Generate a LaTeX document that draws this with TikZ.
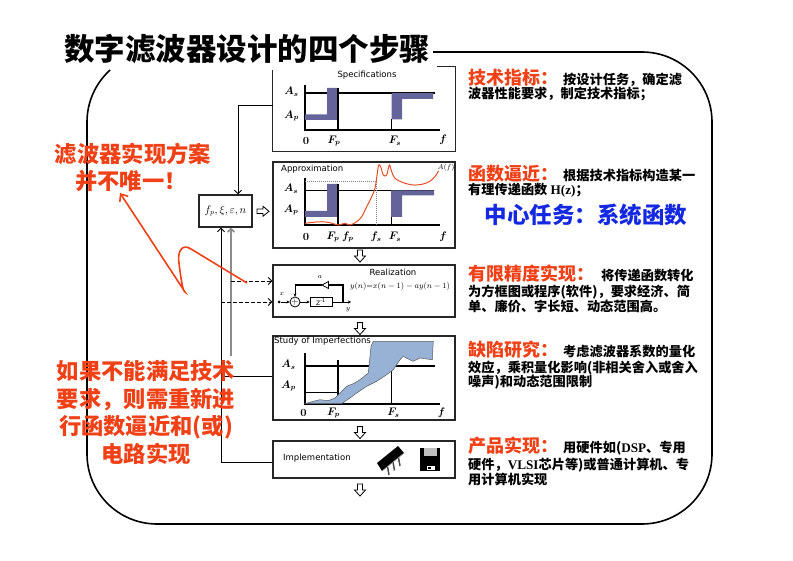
\documentclass[tikz,border=0pt]{standalone}
\usepackage{fontspec}
\newfontfamily\cjk{Noto Sans CJK SC}
\newfontfamily\dvs{DejaVu Sans}
\newfontfamily\tms{Liberation Serif}
\usetikzlibrary{arrows.meta}
\definecolor{hred}{RGB}{240,64,22}
\definecolor{hblue}{RGB}{20,40,225}
\definecolor{barc}{RGB}{100,100,155}
\definecolor{curvec}{RGB}{232,78,38}
\definecolor{bluc}{RGB}{152,178,214}
\newcommand\redhead{\cjk\bfseries\fontsize{18}{18}\selectfont\color{hred}}
\newcommand\blkbody{\cjk\bfseries\fontsize{13.2}{13.2}\selectfont\color{black}}
\newcommand\bigred{\cjk\bfseries\fontsize{22.3}{22.3}\selectfont}
\begin{document}
\begin{tikzpicture}[x=1pt,y=-1pt,
  boxline/.style={draw=black!85, line width=1.3},
  panel/.style={boxline, inner sep=0, minimum width=182},
  ghost/.style={inner sep=0, minimum width=182},
  ax/.style={line width=1.3},
  ml/.style={inner sep=0, font=\fontsize{10.5}{12}\selectfont\boldmath},
  sml/.style={inner sep=0, font=\fontsize{7.5}{9}\selectfont},
  sl/.style={inner sep=0, font=\dvs\fontsize{8.5}{10}\selectfont},
  conn/.style={line width=0.9, -{Straight Barb[length=3.5pt,width=7pt]}},
  dconn/.style={conn, dash pattern=on 3.5pt off 2.5pt},
  redarrow/.style={draw=hred, line width=1.6, -{Straight Barb[length=6pt,width=10pt]}},
  rt/.style={inner sep=0, anchor=base west},
  hdown/.pic={\draw[line width=0.8,fill=white] (-2.5,-6) -- (2.5,-6) -- (2.5,0) -- (5.5,0) -- (0,6) -- (-5.5,0) -- (-2.5,0) -- cycle;},
  hright/.pic={\draw[line width=0.8,fill=white] (-6,-2.3) -- (0,-2.3) -- (0,-5) -- (6,0) -- (0,5) -- (0,2.3) -- (-6,2.3) -- cycle;}
]
\useasboundingbox (0,0) rectangle (793,561);

% outer frame (its top-left part is hidden by the title)
\draw[line width=1.6] (433,52) -- (642,52) arc[start angle=-90,end angle=0,radius=70]
  -- (712,454) arc[start angle=0,end angle=90,radius=70]
  -- (157,524) arc[start angle=90,end angle=180,radius=70]
  -- (87,122) arc[start angle=180,end angle=228,radius=70];

% title
\node[inner sep=0, anchor=base, font=\cjk\bfseries\fontsize{30.5}{30.5}\selectfont] (title) at (247,60.6) {数字滤波器设计的四个步骤};

% ---------- panels ----------
\node[ghost, minimum height=84] (spec) at (364,109) {};
\draw[boxline] ([xshift=-18]spec.north east) -- (spec.north east) -- (spec.south east) -- (spec.south west) -- ([yshift=-3]spec.north west);
\node[panel, minimum height=86] (approx) at (364,205) {};
\node[panel, minimum height=52] (real) at (364,291) {};
\node[panel, minimum height=84] (study) at (364,378) {};
\node[panel, minimum height=37] (impl) at (364,459.5) {};
\node[boxline, inner sep=0, minimum width=53, minimum height=32, font=\fontsize{10.5}{12}\selectfont] (param) at (225.5,211) {$f_p,\xi,\varepsilon,n$};

% hollow arrows
\pic at (360,256) {hdown};
\pic at (360,328.5) {hdown};
\pic at (360,432.5) {hdown};
\pic at (360,490) {hdown};
\pic at (263,211.3) {hright};

% ---------- panel 1: specifications ----------
\node[sl] (p1t) at (367,75) {Specifications};
\draw[ax] (305,85) -- (305,130) -- (440,130);
\draw[line width=1.4] (305,93) -- (435,93);
\fill[barc] (305,114.5) -- (327,114.5) -- (327,88) -- (338,88) -- (338,120) -- (305,120) -- cycle;
\fill[barc] (391.5,93) -- (433,93) -- (433,99) -- (402,99) -- (402,119.5) -- (391.5,119.5) -- cycle;
\draw[ax] (338,88) -- (338,130);
\draw[line width=1] (391.5,119.5) -- (391.5,130);
\node[ml] (p1as) at (291.5,92) {$A_s$};
\node[ml] (p1ap) at (291.5,116) {$A_p$};
\node[ml] (p1z) at (306,141) {$0$};
\node[ml] (p1fp) at (334,141) {$F_p$};
\node[ml] (p1fs) at (395,141) {$F_s$};
\node[ml] (p1f) at (443,140) {$f$};

% ---------- panel 2: approximation ----------
\node[sl, anchor=west] (p2t) at (281,169) {Approximation};
\draw[ax] (305,178) -- (305,225) -- (440,225);
\draw[line width=1.4] (305,190.5) -- (434,190.5);
\draw[gray, line width=0.6, dash pattern=on 1pt off 1pt] (305,181) -- (376,181) -- (376,225);
\fill[barc] (305,211) -- (327,211) -- (327,184) -- (338,184) -- (338,217) -- (305,217) -- cycle;
\fill[barc] (391,190.5) -- (434,190.5) -- (434,195.5) -- (402,195.5) -- (402,217) -- (391,217) -- cycle;
\draw[ax] (338,184) -- (338,225);
\draw[line width=1] (391,217) -- (391,225);
\draw[curvec, line width=1] plot[smooth, tension=0.55] coordinates {
 (305,223.3) (313.3,222.3) (321.7,221.7) (330,222.7) (338.3,225) (345,223.3) (350,225)
 (356.7,221.7) (361.7,216.7) (366.7,206.7) (371.7,196.7) (375,188.3) (377.3,173.3)
 (378.7,165) (380.7,166.7) (383.3,175) (386.7,175) (389.3,165) (391.7,171.7) (395,178.3)
 (403.3,182.7) (413.3,185) (423.3,184) (430,181.2) (435,176.5) (438.5,171)};
\node[sml] (p2af) at (446,167.5) {$A(f)$};
\node[ml] (p2as) at (291,189) {$A_s$};
\node[ml] (p2ap) at (291,210) {$A_p$};
\node[ml] (p2z) at (306,237) {$0$};
\node[ml] (p2Fp) at (333,237) {$F_p$};
\node[ml] (p2fp) at (348,237) {$f_p$};
\node[ml] (p2fs) at (376,237) {$f_s$};
\node[ml] (p2Fs) at (395,237) {$F_s$};
\node[ml] (p2f) at (443,237) {$f$};

% ---------- panel 3: realization ----------
\node[sl] (p3t) at (393,272) {Realization};
\node[inner sep=0, font=\fontsize{8.5}{10}\selectfont] (p3eq) at (400,287) {$y(n){=}x(n-1)-ay(n-1)$};
\node[sml] (p3x) at (282,294) {$x$};
\node[sml] (p3y) at (348,309.5) {$y$};
\node[sml] (p3a) at (320,277) {$a$};
\node[circle, fill=black, inner sep=0, minimum size=3] (xin) at (279,302) {};
\node[circle, draw, line width=0.8, inner sep=0, minimum size=10, font=\fontsize{9}{9}\selectfont] (add) at (295,302) {$+$};
\node[draw, line width=0.8, inner sep=0, minimum width=22, minimum height=8.5, font=\dvs\fontsize{6}{6}\selectfont] (zd) at (321,302) {Z\textsuperscript{-1}};
\coordinate (tap) at (343,302);
\coordinate (yout) at (351,302);
\coordinate (fbtop) at (343,285);
\coordinate (fbleft) at (295,285);
\draw[line width=0.8, -{Stealth[length=3pt,width=3pt]}] (xin) -- (add);
\draw[line width=0.8, -{Stealth[length=3pt,width=3pt]}] (add) -- (zd);
\draw[line width=0.8, -{Stealth[length=3pt,width=3pt]}] (zd) -- (yout);
\draw[line width=1.8] (tap) -- (fbtop) -- (328.5,285);
\draw[line width=0.8, fill=white] (328.5,281.5) -- (328.5,288.5) -- (322,285) -- cycle;
\draw[line width=1.8] (322,285) -- (fbleft);
\draw[line width=0.8, -{Stealth[length=3pt,width=3pt]}] (fbleft) -- (add);

% ---------- panel 4: study of imperfections ----------
\draw[ax] (305,353) -- (305,404) -- (440,404);
\draw[line width=1.4] (305,366) -- (435,366);
\draw[line width=0.8] (305,392) -- (338,392);
\draw[line width=1.2] (338,360) -- (338,396);
\draw[line width=0.8] (391,370) -- (391,404);
\draw[fill=bluc, draw=black!65, line width=0.5] plot coordinates {
 (305,403.7) (313.3,401.3) (320,399.7) (328.3,400.7) (335,398) (340,393) (346.7,386.3)
 (353.3,383.7) (360,379.7) (368.3,373) (370,356.3) (371,346.3) (373.3,341.3) (433.3,341.3)
 (432.3,359.7) (426.7,359) (420,358) (413.3,361.3) (408.3,359) (403.3,356.3) (400,359.7)
 (396.7,364.7) (393.3,369.7) (386.7,374.7) (376.7,381.3) (366.7,386.3) (356.7,393)
 (350,398) (341.7,403.7)} -- cycle;
\node[sl, anchor=west] (p4t) at (274,341.5) {Study of Imperfections};
\node[ml] (p4as) at (288.5,365) {$A_s$};
\node[ml] (p4ap) at (288.5,386) {$A_p$};
\node[ml] (p4z) at (303.5,413) {$0$};
\node[ml] (p4fp) at (333.5,413) {$F_p$};
\node[ml] (p4fs) at (393.5,413) {$F_s$};
\node[ml] (p4f) at (441.5,413) {$f$};

% ---------- panel 5: implementation ----------
\node[sl, anchor=west, font=\dvs\fontsize{8.5}{10}\selectfont] (p5t) at (283,458.5) {Implementation};
\fill[black] (398,446) -- (404,453) -- (382,471) -- (377,463) -- cycle;
\draw[black!70, line width=1.5] (398.5,457.5) -- (400,466) (393,462) -- (394.5,470.5) (387.5,466.5) -- (389,475);
\draw[black!45, line width=0.6] (404,453) -- (382,471);
\fill[black] (420,448) rectangle (440,471);
\fill[black!25] (424,448) rectangle (437,456);
\fill[white] (427,465.5) rectangle (435,470);
\fill[black] (428,466.5) rectangle (430.5,469);

% ---------- connectors ----------
\coordinate (bl) at ([xshift=-4.5]param.south);
\coordinate (gl) at ([xshift=5.5]param.south);
\coordinate (glend) at (231,356);
\draw[conn] ([yshift=4]spec.west) -| ([xshift=12.5]param.north);
\draw[conn] ([yshift=-2.5]impl.west) -| (bl);
\draw[line width=0.9] (study.west |- 0,376.5) -- (bl |- 0,376.5);
\draw[conn, draw=black!45, line width=1.5] (glend) -- (gl);
\draw[dconn] (gl |- 0,281) -- ([yshift=10]real.west);
\draw[dconn] (bl |- 0,302) -- ([yshift=-11]real.west);

% ---------- left red notes ----------
\node[inner sep=0, anchor=base, font=\bigred, text=hred] (n1a) at (133,162.4) {滤波器实现方案};
\node[inner sep=0, anchor=base, font=\bigred, text=hred] (n1b) at (131,189.4) {并不唯一！};
\coordinate (rtail) at (247,283);
\coordinate (rtip) at (120,193);
\draw[redarrow] (rtail) -- (191,249) .. controls (182,243) and (177,252) .. (179,263)
  .. controls (181,280) and (183,292) .. (185,292) -- (rtip);
\node[inner sep=0, anchor=base, font=\bigred, text=hred] (n2a) at (146,380) {如果不能满足技术};
\node[inner sep=0, anchor=base, font=\bigred, text=hred] (n2b) at (146,407.4) {要求，则需重新进};
\node[inner sep=0, anchor=base, font=\bigred, text=hred] (n2c) at (146,435) {行函数逼近和(或)};
\node[inner sep=0, anchor=base, font=\bigred, text=hred] (n2d) at (146,462.4) {电路实现};

% ---------- right texts ----------
\node[rt] (t1a) at (468,84.3) {{\redhead 技术指标：}\hspace{5pt}{\blkbody 按设计任务，确定滤}};
\node[rt] (t1b) at (468,98.3) {\blkbody 波器性能要求，制定技术指标；};
\node[rt] (t2a) at (468,180.8) {{\redhead 函数逼近：}\hspace{5pt}{\blkbody 根据技术指标构造某一}};
\node[rt] (t2b) at (468,195) {\blkbody 有理传递函数{\tms\ H(z)}；};
\node[inner sep=0, anchor=base, font=\cjk\bfseries\fontsize{22.5}{22.5}\selectfont, text=hblue] (t2c) at (586,223.5) {中心任务：系统函数};
\node[rt] (t3a) at (468,281) {{\redhead 有限精度实现：}\hspace{7pt}{\blkbody 将传递函数转化}};
\node[rt] (t3b) at (468,296.7) {\blkbody 为方框图或程序(软件)，要求经济、简};
\node[rt] (t3c) at (468,311.7) {\blkbody 单、廉价、字长短、动态范围高。};
\node[rt] (t4a) at (468,357) {{\redhead 缺陷研究：}\hspace{5pt}{\blkbody 考虑滤波器系数的量化}};
\node[rt] (t4b) at (468,372.5) {\blkbody 效应，乘积量化影响(非相关舍入或舍入};
\node[rt] (t4c) at (468,386.7) {\blkbody 噪声)和动态范围限制};
\node[rt] (t5a) at (468,452.5) {{\redhead 产品实现：}\hspace{5pt}{\blkbody 用硬件如({\tms\bfseries DSP}、专用}};
\node[rt] (t5b) at (468,469) {\blkbody 硬件，{\tms\bfseries VLSI}芯片等)或普通计算机、专};
\node[rt] (t5c) at (468,484) {\blkbody 用计算机实现};
\end{tikzpicture}
\end{document}
